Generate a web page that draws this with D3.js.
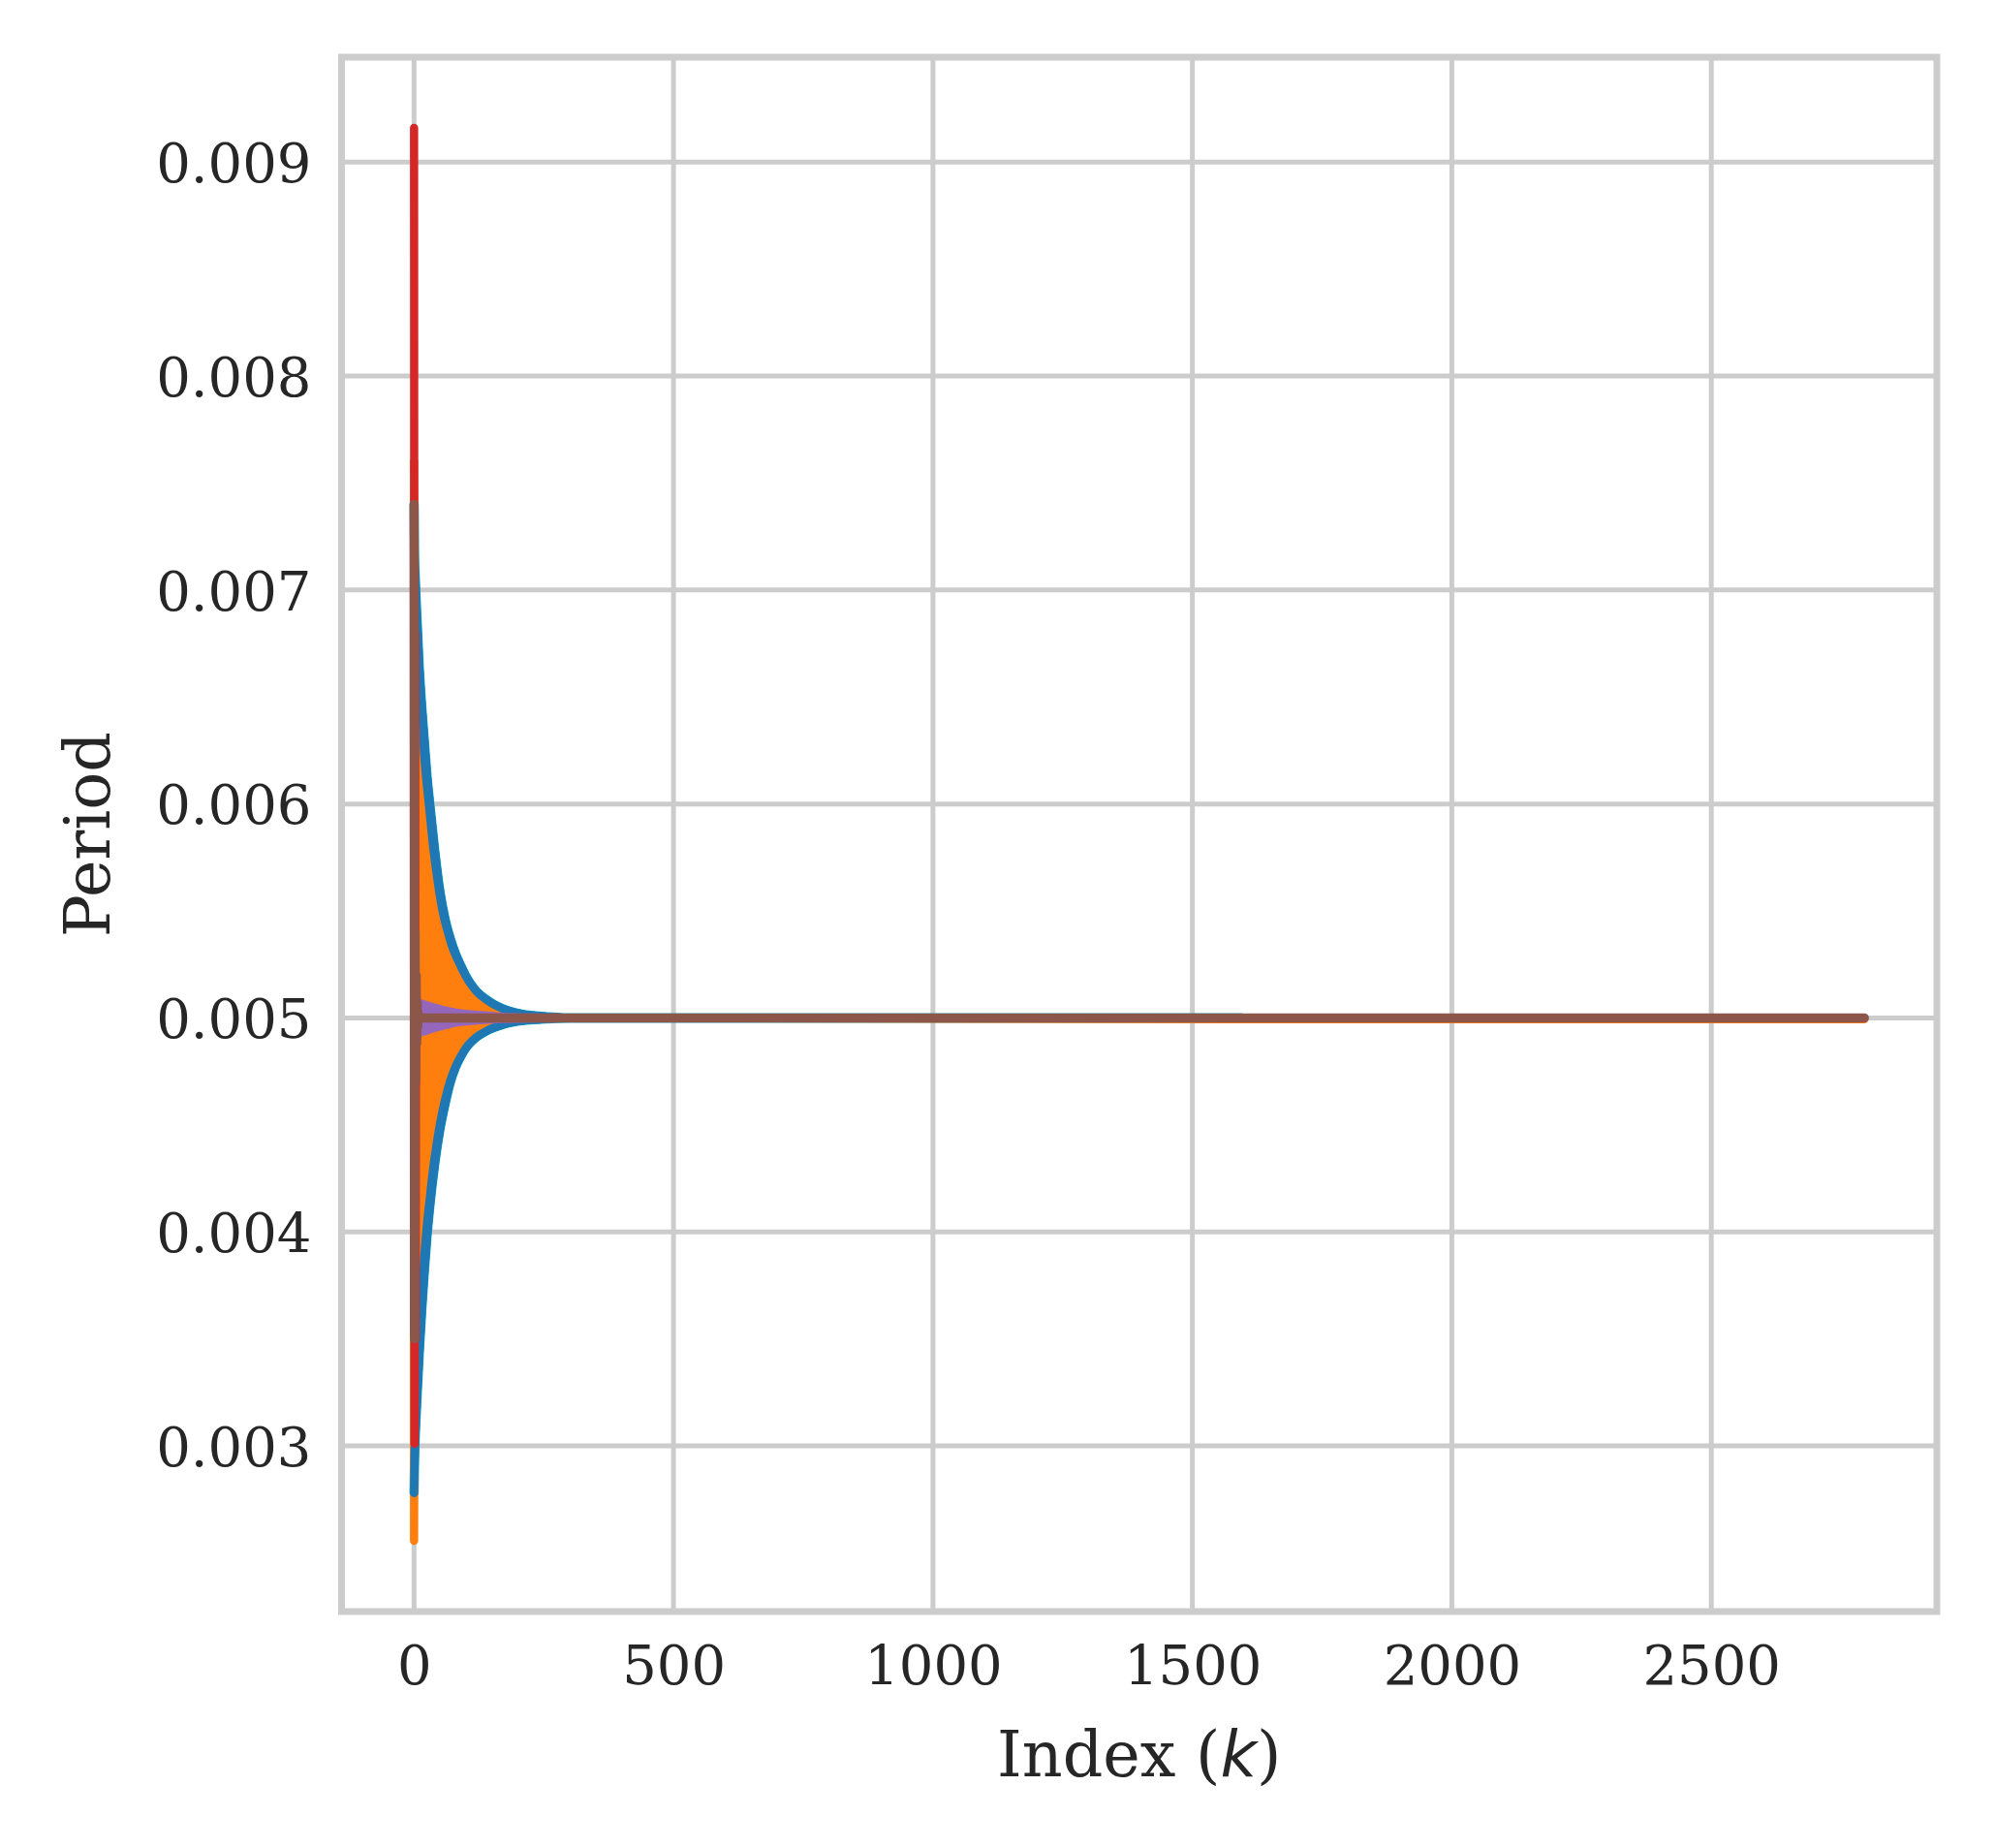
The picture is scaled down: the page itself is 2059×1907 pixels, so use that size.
<!DOCTYPE html>
<html><head><meta charset="utf-8">
<script src="https://cdn.jsdelivr.net/npm/d3@7"></script>
<style>html,body{margin:0;padding:0;background:#fff;}</style>
</head><body><svg id="chart" width="2059" height="1907"></svg>
<script>
// ---- tick labels ----
const xTicks = [0, 500, 1000, 1500, 2000, 2500];
const yTicks = [0.003, 0.004, 0.005, 0.006, 0.007, 0.008, 0.009];

// ---- blue series: outer envelope (upper / lower values) ----
const kBlue = [0,1,2,5,10,15,20,25,30,40,50,60,70,80,90,100,120,140,160,180,200,230,260,300,1595];
const blueUpper = [0.00740,0.00714,0.00708,0.00690,0.00664,0.00645,0.00629,0.00613,0.00601,0.00578,0.00559,0.00546,0.00537,0.00530,0.005245,0.005195,0.005125,0.005085,0.005055,0.005035,0.005022,0.005011,0.005005,0.00500,0.00500];
const blueLower = [0.00278,0.00294,0.00302,0.00319,0.00343,0.00364,0.00382,0.00398,0.00411,0.00432,0.00448,0.00460,0.00470,0.00477,0.00482,0.00486,0.00491,0.00494,0.00496,0.004975,0.004985,0.004992,0.004996,0.00500,0.00500];

// ---- orange series: oscillation envelope ----
const kOrange = [0,1,2,3,5,10,15,20,25,30,40,50,60,70,80,90,100,120,140,160,180,200,230,260,300,1595,2795];
const orangeUpper = [0.00760,0.00690,0.00640,0.00626,0.00619,0.00606,0.00594,0.00582,0.00572,0.00563,0.005485,0.00539,0.00531,0.005255,0.005205,0.005165,0.00513,0.005088,0.005058,0.005037,0.005023,0.005015,0.005007,0.005003,0.00500,0.004994,0.004994];
const orangeLower = [0.002556,0.00330,0.00369,0.00385,0.00392,0.00406,0.00417,0.00428,0.00437,0.00445,0.00458,0.00468,0.004755,0.00481,0.004852,0.00488,0.004905,0.004937,0.004958,0.004973,0.004984,0.004989,0.004994,0.004997,0.00500,0.004994,0.004994];

// ---- purple series: small envelope ----
const kPurple = [0,10,20,30,40,60,80,100,130,170,220,300,1595];
const purpleUpper = [0.00508,0.00507,0.005063,0.005055,0.005048,0.005035,0.005025,0.005019,0.005013,0.005006,0.005002,0.00500,0.00500];
const purpleLower = [0.00492,0.00493,0.004938,0.004946,0.004954,0.004966,0.004978,0.004984,0.00499,0.004995,0.004998,0.00500,0.00500];

// ---- red series ----
const kRed = [0,1,2,3,4,5,6,8,10,1595];
const redValues = [0.00916,0.00301,0.0068,0.0035,0.0052,0.0049,0.00502,0.00500,0.00500,0.00500];

// ---- brown series ----
const kBrown = [0,1,2,3,4,5,6,7,8,10,12,15,2795];
const brownValues = [0.0074,0.0035,0.0054,0.0047,0.0052,0.00488,0.00507,0.00496,0.00502,0.00499,0.00500,0.00500,0.00500];

const colors = {blue:"#1f77b4", orange:"#ff7f0e", red:"#d62728", purple:"#9467bd", brown:"#8c564b", cyan:"#17becf"};

const svg = d3.select("#chart");
const plot = {left:352.5, right:1999, top:59, bottom:1663};

const allK = [...kBlue, ...kOrange, ...kPurple, ...kRed, ...kBrown];
const allV = [...blueUpper, ...blueLower, ...orangeUpper, ...orangeLower, ...purpleUpper, ...purpleLower, ...redValues, ...brownValues];
const [kMin, kMax] = d3.extent(allK);
const [vMin, vMax] = d3.extent(allV);
const kPad = 0.05 * (kMax - kMin), vPad = 0.05 * (vMax - vMin);

const x = d3.scaleLinear().domain([kMin - kPad, kMax + kPad]).range([plot.left, plot.right]);
const y = d3.scaleLinear().domain([vMin - vPad, vMax + vPad]).range([plot.bottom, plot.top]);

const gridColor = "#cccccc", textColor = "#262626";

// grid
const grid = svg.append("g");
grid.selectAll("line.h").data(yTicks).enter().append("line")
  .attr("x1", plot.left).attr("x2", plot.right)
  .attr("y1", d => y(d)).attr("y2", d => y(d))
  .attr("stroke", gridColor).attr("stroke-width", 5);
grid.selectAll("line.v").data(xTicks).enter().append("line")
  .attr("y1", plot.top).attr("y2", plot.bottom)
  .attr("x1", d => x(d)).attr("x2", d => x(d))
  .attr("stroke", gridColor).attr("stroke-width", 5);

const zip2 = (ks, hi, lo) => ks.map((k, i) => ({k, hi: hi[i], lo: lo[i]}));
const zip1 = (ks, v) => ks.map((k, i) => ({k, v: v[i]}));

const area = d3.area().x(d => x(d.k)).y0(d => y(d.lo)).y1(d => y(d.hi)).curve(d3.curveMonotoneX);
const smoothLine = d3.line().x(d => x(d.k)).y(d => y(d.v)).curve(d3.curveMonotoneX);
const line = d3.line().x(d => x(d.k)).y(d => y(d.v));

const series = svg.append("g").attr("stroke-linejoin", "round").attr("stroke-linecap", "round");

const blueUp = zip1(kBlue, blueUpper), blueLo = zip1(kBlue, blueLower);

// cyan fringe beneath blue
[blueUp, blueLo].forEach(d => series.append("path").attr("d", smoothLine(d))
  .attr("fill", "none").attr("stroke", colors.cyan).attr("stroke-width", 9.6));

// blue band
series.append("path").attr("d", area(zip2(kBlue, blueUpper, blueLower)))
  .attr("fill", colors.blue).attr("stroke", colors.blue).attr("stroke-width", 8.5);

// orange band
series.append("path").attr("d", area(zip2(kOrange, orangeUpper, orangeLower)))
  .attr("fill", colors.orange).attr("stroke", colors.orange).attr("stroke-width", 8.5);

// blue envelope lines on top
[blueUp, blueLo].forEach(d => series.append("path").attr("d", smoothLine(d))
  .attr("fill", "none").attr("stroke", colors.blue).attr("stroke-width", 8.5));

// red
series.append("path").attr("d", line(zip1(kRed, redValues)))
  .attr("fill", "none").attr("stroke", colors.red).attr("stroke-width", 8.5);

// purple band
series.append("path").attr("d", area(zip2(kPurple, purpleUpper, purpleLower)))
  .attr("fill", colors.purple).attr("stroke", colors.purple).attr("stroke-width", 8.5);

// brown
series.append("path").attr("d", line(zip1(kBrown, brownValues)))
  .attr("fill", "none").attr("stroke", colors.brown).attr("stroke-width", 9.5);

// spines
svg.append("rect").attr("x", plot.left).attr("y", plot.top)
  .attr("width", plot.right - plot.left).attr("height", plot.bottom - plot.top)
  .attr("fill", "none").attr("stroke", gridColor).attr("stroke-width", 7);

// axes
const yAxis = d3.axisLeft(y).tickValues(yTicks).tickFormat(d3.format(".3f")).tickSize(0).tickPadding(31);
const xAxis = d3.axisBottom(x).tickValues(xTicks).tickFormat(d3.format("d")).tickSize(0).tickPadding(35);

const gy = svg.append("g").attr("transform", `translate(${plot.left},0)`).call(yAxis);
const gx = svg.append("g").attr("transform", `translate(0,${plot.bottom})`).call(xAxis);
[gx, gy].forEach(g => {
  g.select(".domain").remove();
  g.selectAll("text").attr("fill", textColor).style("font-family", "'DejaVu Serif', serif").style("font-size", "56px");
});
gy.selectAll("text").attr("dy", "0.36em");

// labels
svg.append("text").attr("transform", `translate(113,${(plot.top + plot.bottom) / 2}) rotate(-90)`)
  .attr("text-anchor", "middle").attr("fill", textColor)
  .style("font-family", "'DejaVu Serif', serif").style("font-size", "65px").text("Period");

const xl = svg.append("text").attr("x", (plot.left + plot.right) / 2).attr("y", 1833)
  .attr("text-anchor", "middle").attr("fill", textColor)
  .style("font-family", "'DejaVu Serif', serif").style("font-size", "65px");
xl.append("tspan").text("Index (");
xl.append("tspan").style("font-family", "'DejaVu Sans', sans-serif").style("font-style", "italic").text("k");
xl.append("tspan").text(")");
</script>
</body></html>
